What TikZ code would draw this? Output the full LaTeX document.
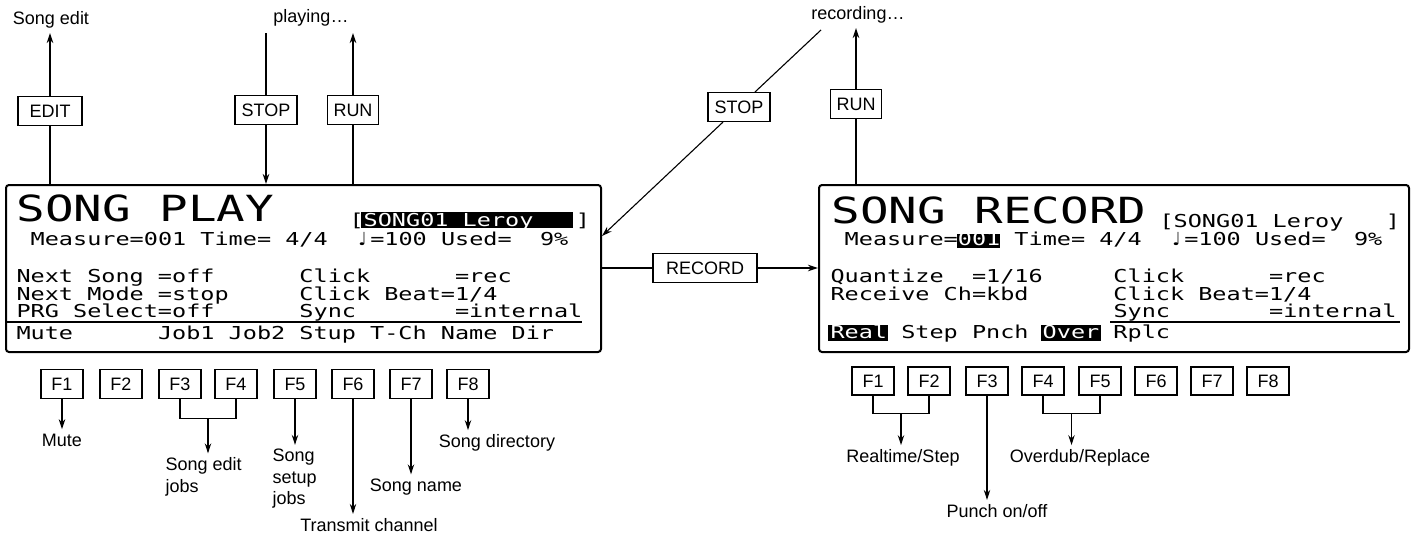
\documentclass[tikz,border=0pt]{standalone}
\usepackage{fontspec}
\setmainfont{Liberation Sans}
\newfontfamily\lcdfont[FakeStretch=1.32]{DejaVu Sans Mono}
\newfontfamily\notefont{DejaVu Sans}
\usetikzlibrary{arrows.meta,calc}
\begin{document}
\begin{tikzpicture}[x=1pt,y=-1pt,
  line width=1.1pt,
  >={Stealth[length=10pt,width=6.5pt]},
  key/.style={draw,line width=1.1pt,minimum width=42pt,minimum height=29pt,inner sep=0pt,font=\fontsize{18}{18}\selectfont},
  lbl/.style={inner xsep=1pt,inner ysep=4pt,font=\fontsize{18}{21.5}\selectfont},
  screen/.style={draw,line width=2pt,rounded corners=3pt,inner sep=0pt,anchor=north west},
  lcd/.style={inner sep=0pt,anchor=base west,font=\lcdfont\fontsize{17.8}{18}\selectfont},
  lcdtitle/.style={inner sep=0pt,anchor=base west,font=\lcdfont\fontsize{36}{36}\selectfont},
  note/.style={inner sep=0pt,anchor=base,font=\notefont\fontsize{18}{18}\selectfont},
  sep/.style={line width=1.3pt},
]
\useasboundingbox (0,0) rectangle (1416,538);

% ---------- screens
\node[screen,minimum width=595pt,minimum height=167pt] (play) at (5,184) {};
\node[screen,minimum width=590pt,minimum height=167pt] (rec) at (818,184) {};

% ---------- SONG PLAY contents
\node[lcdtitle] (pTitle) at (16,221) {SONG~PLAY};
\fill (361,212) rectangle (573,228);
\node[lcd] (pNameL) at (349,226) {[};
\node[lcd,text=white] (pName) at (363.15,226) {SONG01~Leroy};
\node[lcd] (pNameR) at (575.4,226) {]};
\node[lcd] (pMeas) at (30.15,245) {Measure=001~Time=~4/4};
\node[note] (pNote) at (362.7,245) {♩};
\node[lcd] (pMeasB) at (369.75,245) {=100~Used=~~9\%};
\node[lcd] (pR1) at (16,282) {Next~Song~=off~~~~~~Click~~~~~~=rec};
\node[lcd] (pR2) at (16,300) {Next~Mode~=stop~~~~~Click~Beat=1/4};
\node[lcd] (pR3) at (16,317) {PRG~Select=off~~~~~~Sync~~~~~~~=internal};
\draw[sep] (7,322) -- (582,322);
\node[lcd] (pR4) at (16,339) {Mute~~~~~~Job1~Job2~Stup~T-Ch~Name~Dir};

% ---------- SONG RECORD contents
\node[lcdtitle] (rTitle) at (831,223) {SONG~RECORD};
\node[lcd] (rName) at (1159,227) {[SONG01~Leroy~~~]};
\fill (957,234) rectangle (1000,248);
\node[lcd] (rMeas) at (844.15,245) {Measure=\textcolor{white}{001}~Time=~4/4};
\node[note] (rNote) at (1176.7,245) {♩};
\node[lcd] (rMeasB) at (1183.75,245) {=100~Used=~~9\%};
\node[lcd] (rR1) at (830,282) {Quantize~~=1/16~~~~~Click~~~~~~=rec};
\node[lcd] (rR2) at (830,300) {Receive~Ch=kbd~~~~~~Click~Beat=1/4};
\node[lcd] (rR3) at (1113,317) {Sync~~~~~~~=internal};
\draw[sep] (1110,322) -- (1400,322);
\fill (828,325) rectangle (888,341);
\fill (1041,325) rectangle (1101,341);
\node[lcd] (rR4) at (830,338) {\textcolor{white}{Real}~Step~Pnch~\textcolor{white}{Over}~Rplc};

% ---------- top left
\node[lbl] (songedit) at (51,20) {Song edit};
\node[key,minimum width=64pt] (edit) at (50,111) {EDIT};
\coordinate (editTip) at (50,33);
\draw (play.north -| edit) -- (edit.south);
\draw[->] (edit.north) -- (editTip);

\node[lbl] (playing) at (311,18) {playing…};
\node[key,minimum width=62pt] (stopL) at (266,110) {STOP};
\coordinate (stopLtop) at (266,33);
\draw (stopLtop) -- (stopL.north);
\draw[->] (stopL.south) -- (play.north -| stopL);

\node[key,minimum width=51pt] (runL) at (353,110) {RUN};
\coordinate (runLtip) at (353,33);
\draw (play.north -| runL) -- (runL.south);
\draw[->] (runL.north) -- (runLtip);

% ---------- top right
\node[lbl] (recording) at (858,15) {recording…};
\node[key,minimum width=62pt] (stopR) at (739,107) {STOP};
\coordinate (stopRtop) at (821,30);
\coordinate (stopRtip) at (602,236);
\draw (stopRtop) -- (stopR);
\draw[->] (stopR) -- (stopRtip);

\node[key,minimum width=51pt] (runR) at (856,104) {RUN};
\coordinate (runRtip) at (856,28);
\draw (rec.north -| runR) -- (runR.south);
\draw[->] (runR.north) -- (runRtip);

% ---------- RECORD
\node[key,minimum width=104pt] (record) at (705,268) {RECORD};
\draw (play.east |- record) -- (record.west);
\draw[->] (record.east) -- (rec.west |- record);

% ---------- function keys, SONG PLAY
\foreach \i/\x in {1/62,2/121,3/180,4/236,5/295,6/353,7/411,8/468}
  \node[key] (pF\i) at (\x,384) {F\i};

\node[lbl] (lMute) at (62,440) {Mute};
\draw[->] (pF1.south) -- (lMute.north);

\coordinate (b34) at ($(pF3.south)!0.5!(pF4.south)+(0,19)$);
\draw (pF3.south) |- (b34) -| (pF4.south);
\node[lbl,align=left,anchor=west] (lSEJ) at (164,477) {Song edit\\jobs};
\draw[->] (b34) -- (b34 |- lSEJ.north);

\node[lbl,align=left,anchor=west] (lSSJ) at (271,479) {Song\\setup\\jobs};
\draw[->] (pF5.south) -- (pF5.south |- lSSJ.north);

\node[lbl] (lTC) at (369,525) {Transmit channel};
\draw[->] (pF6.south) -- (pF6.south |- lTC.north);

\node[lbl] (lSN) at (416,487) {Song name};
\draw[->] (pF7.south) -- (pF7.south |- lSN.north);

\node[lbl] (lSD) at (497,443) {Song directory};
\draw[->] (pF8.south) -- (pF8.south |- lSD.north);

% ---------- function keys, SONG RECORD
\foreach \i/\x in {1/873,2/929,3/987,4/1043,5/1100,6/1156,7/1212,8/1268}
  \node[key,minimum height=28pt] (rF\i) at (\x,381) {F\i};

\coordinate (b12) at ($(rF1.south)!0.5!(rF2.south)+(0,18)$);
\draw (rF1.south) |- (b12) -| (rF2.south);
\node[lbl] (lRS) at (903,458) {Realtime/Step};
\draw[->] (b12) -- (b12 |- lRS.north);

\node[lbl] (lPO) at (997,511) {Punch on/off};
\draw[->] (rF3.south) -- (rF3.south |- lPO.north);

\coordinate (b45) at ($(rF4.south)!0.5!(rF5.south)+(0,18)$);
\draw (rF4.south) |- (b45) -| (rF5.south);
\node[lbl] (lOR) at (1080,458) {Overdub/Replace};
\draw[->] (b45) -- (b45 |- lOR.north);
\end{tikzpicture}
\end{document}
